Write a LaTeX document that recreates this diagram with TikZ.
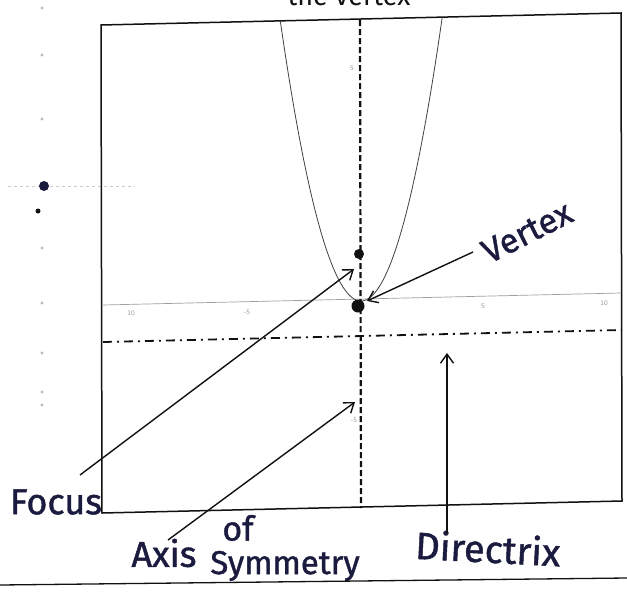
\documentclass[tikz,border=0pt]{standalone}
\usepackage{fontspec}
\newfontfamily\hand[FakeBold=1.2]{Fira Sans}
\newfontfamily\handtop{Fira Sans}
\usetikzlibrary{arrows.meta}
\definecolor{ink}{HTML}{1B1B40}
\definecolor{pen}{HTML}{111111}
\tikzset{
 frame/.style={line width=1.5pt, pen},
 plotaxis/.style={line width=0.7pt, gray!75},
 curve/.style={line width=0.8pt, black!75},
 symaxis/.style={line width=2.2pt, pen, dash pattern=on 6pt off 3pt},
 directrix/.style={line width=1.8pt, pen, dash pattern=on 9pt off 5pt on 2pt off 5pt},
 pointer/.style={line width=1.4pt, pen, -{Straight Barb[length=9pt,width=13pt]}},
 hw/.style={font=\hand\fontsize{36}{36}\selectfont, text=ink, inner sep=0pt},
 tick/.style={font=\sffamily\fontsize{7}{7}\selectfont, text=gray!80, inner sep=0pt},
 ghost/.style={fill=gray!55},
 dot/.style={circle, fill=pen, inner sep=0pt},
}
\begin{document}
\begin{tikzpicture}[x=1pt,y=-1pt]
\useasboundingbox (0,0) rectangle (627,592);
\fill[white] (0,0) rectangle (627,592);

% faint marks at left
\draw[gray!40, line width=0.8pt, dashed] (8,186) -- (135,186);
\foreach \yy in {8,55,119,248,303,353,392,405}
  \fill[ghost] (42,\yy) circle (1.6pt);
\node[dot, minimum size=10pt, fill=ink] (bigdot) at (44,186) {};
\node[dot, minimum size=5pt] (smalldot) at (38,211) {};

% cut-off text at the top
\node[font=\handtop\fontsize{27}{27}\selectfont, anchor=base, text=pen] (top) at (349,5) {the vertex};

% frame
\draw[frame] (101,25) -- (621,13) -- (622,501) -- (102,513) -- cycle;

% x axis
\draw[plotaxis] (103,305) -- (621,293);
\node[tick] (tm10) at (131,313) {10};
\node[tick] (tm5) at (247,312) {-5};
\node[tick] (tp5) at (483,306) {5};
\node[tick] (tp10) at (604,303) {10};
\node[tick] (ty5) at (352,68) {5};
\node[tick] (tym5) at (354,420) {-5};

% parabola
\begin{scope}
\clip (101,25) -- (621,13) -- (622,501) -- (102,513) -- cycle;
\draw[curve] plot[domain=-84:84, samples=80, smooth] ({361+\x},{301-0.043*\x*\x});
\end{scope}

% axis of symmetry
\coordinate (axtop) at (360,20);
\coordinate (axbot) at (361,508);
\draw[symaxis] (axtop) -- (axbot);

% directrix
\coordinate (dl) at (103,342);
\coordinate (dr) at (622,330);
\draw[directrix] (dl) -- (dr);

% points
\node[dot, minimum size=10pt] (focus) at (359,254) {};
\node[dot, minimum size=13pt] (vertex) at (358,306) {};

% handwritten labels
\node[hw, font=\hand\fontsize{34}{34}\selectfont, rotate=27] (vtxt) at (527,232) {Vertex};
\node[hw] (ftxt) at (56,502) {Focus};
\node[hw] (atxt) at (164,553) {Axis};
\node[hw, font=\hand\fontsize{34}{34}\selectfont] (otxt) at (238,528) {of};
\node[hw, font=\hand\fontsize{33}{33}\selectfont] (stxt) at (285,566) {Symmetry};
\node[hw, font=\hand\fontsize{38}{38}\selectfont, rotate=-3] (dtxt) at (488,548) {Directrix};

% pointers
\coordinate (vfrom) at (473,252);
\coordinate (vtip) at (367,301);
\draw[pointer] (vfrom) -- (vtip);
\coordinate (ffrom) at (80,475);
\coordinate (ftip) at (354,269);
\draw[pointer] (ffrom) -- (ftip);
\coordinate (afrom) at (168,540);
\coordinate (atip) at (355,402);
\draw[pointer] (afrom) -- (atip);
\coordinate (dfrom) at (447,533);
\coordinate (dtip) at (447,353);
\draw[pointer] (dfrom) -- (dtip);

% bottom rule
\draw[line width=1.3pt, pen] (0,585) -- (627,578);
\end{tikzpicture}
\end{document}
